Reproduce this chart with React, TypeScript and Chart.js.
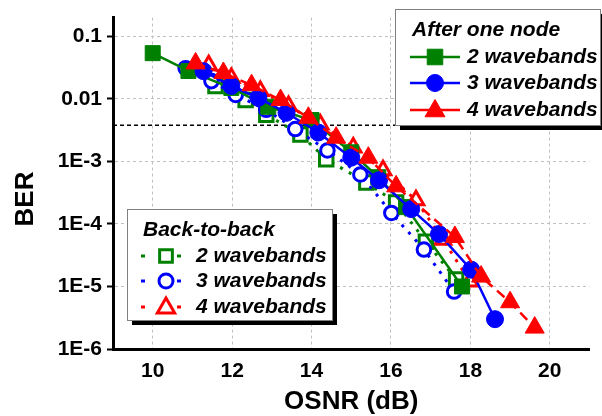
import React, { useEffect, useRef } from "react";
import { Chart, registerables } from "chart.js";

Chart.register(...registerables);

const FONT = '"Liberation Sans", Arial, sans-serif';

// ---- axis ticks ----
const xTicks = [10, 12, 14, 16, 18, 20];
const yTicks = [0.1, 0.01, 1e-3, 1e-4, 1e-5, 1e-6];
const yTickLabels = ["0.1", "0.01", "1E-3", "1E-4", "1E-5", "1E-6"];

// ---- After one node ----
const an2X = [10.0, 10.9, 11.98, 12.91, 14.0, 15.0, 15.68, 16.38, 17.79];
const an2Y = [0.054, 0.028, 0.015, 0.0075, 0.0046, 0.0014, 5.6e-4, 1.86e-4, 1.0e-5];

const an3X = [11.28, 11.98, 12.66, 13.37, 14.17, 15.0, 15.7, 16.51, 17.21, 18.02, 18.62];
const an3Y = [0.0278, 0.0161, 0.0104, 0.006, 0.0029, 0.00115, 5.0e-4, 1.73e-4, 6.9e-5, 1.86e-5, 3.0e-6];

const an4X = [11.08, 11.78, 12.49, 13.22, 13.92, 14.62, 15.43, 16.13, 17.61, 18.27, 19.0, 19.62];
const an4Y = [0.037, 0.026, 0.0166, 0.0096, 0.005, 0.0024, 0.00115, 4.0e-4, 6.2e-5, 1.44e-5, 5.6e-6, 2.2e-6];

// ---- Back-to-back ----
const b2X = [11.58, 12.34, 12.86, 13.72, 14.37, 15.38, 16.13, 16.88, 17.64];
const b2Y = [0.0161, 0.0096, 0.0056, 0.0027, 0.00108, 4.6e-4, 2.2e-4, 5.2e-5, 1.3e-5];

const b3X = [10.83, 11.48, 12.09, 12.86, 13.59, 14.4, 15.23, 16.01, 16.83, 17.59];
const b3Y = [0.031, 0.0193, 0.0116, 0.0067, 0.0033, 0.0015, 6.2e-4, 1.5e-4, 3.9e-5, 8.3e-6];

const b4X = [11.41, 11.98, 12.71, 13.42, 14.22, 15.05, 15.8, 16.63, 17.31, 17.99];
const b4Y = [0.0347, 0.0216, 0.0134, 0.0077, 0.0039, 0.00167, 7.2e-4, 2.4e-4, 5.6e-5, 1.2e-5];

// ---- FEC threshold ----
const fecX = [9, 21];
const fecY = [3.8e-3, 3.8e-3];

const legendOneTitle = "After one node";
const legendTwoTitle = "Back-to-back";
const seriesNames = ["2 wavebands", "3 wavebands", "4 wavebands"];

const GREEN = "#008000";
const BLUE = "#0000ff";
const RED = "#ff0000";

const pts = (xs: number[], ys: number[]) => xs.map((x, i) => ({ x, y: ys[i] }));

function drawMarker(
  ctx: CanvasRenderingContext2D,
  style: string,
  x: number,
  y: number,
  r: number,
  fill: string | null,
  stroke: string,
  bw: number
) {
  ctx.save();
  ctx.setLineDash([]);
  ctx.beginPath();
  if (style === "rect") {
    const s = r * Math.SQRT1_2;
    ctx.rect(x - s, y - s, 2 * s, 2 * s);
  } else if (style === "circle") {
    ctx.arc(x, y, r, 0, Math.PI * 2);
  } else {
    ctx.moveTo(x, y - r);
    ctx.lineTo(x + r * 0.8660254, y + r * 0.5);
    ctx.lineTo(x - r * 0.8660254, y + r * 0.5);
  }
  ctx.closePath();
  if (fill) {
    ctx.fillStyle = fill;
    ctx.fill();
  }
  if (bw > 0) {
    ctx.lineWidth = bw;
    ctx.strokeStyle = stroke;
    ctx.stroke();
  }
  ctx.restore();
}

const overlayPlugin = {
  id: "overlay",
  afterDraw(chart: any) {
    const ctx: CanvasRenderingContext2D = chart.ctx;
    ctx.save();
    // axis titles
    ctx.fillStyle = "#000";
    ctx.font = `bold 26px ${FONT}`;
    ctx.textAlign = "center";
    ctx.textBaseline = "middle";
    ctx.fillText("OSNR (dB)", (chart.chartArea.left + chart.chartArea.right) / 2, 402);
    ctx.save();
    ctx.translate(26, 199);
    ctx.rotate(-Math.PI / 2);
    ctx.fillText("BER", 0, 0);
    ctx.restore();

    const colors = [GREEN, BLUE, RED];
    const styles = ["rect", "circle", "triangle"];

    // Legend 1: After one node
    ctx.fillStyle = "#000";
    ctx.fillRect(400, 14, 205, 116);
    ctx.fillStyle = "#fff";
    ctx.fillRect(395, 9, 205, 116);
    ctx.strokeStyle = "#808080";
    ctx.lineWidth = 1;
    ctx.strokeRect(395.5, 9.5, 205, 116);
    ctx.fillStyle = "#000";
    ctx.font = `bold italic 21px ${FONT}`;
    ctx.textAlign = "left";
    ctx.textBaseline = "middle";
    ctx.fillText(legendOneTitle, 412, 30);
    const rows1 = [57, 83, 110];
    const r1 = [11, 8.5, 11.5];
    rows1.forEach((ry, i) => {
      ctx.strokeStyle = colors[i];
      ctx.lineWidth = 2.5;
      ctx.setLineDash([]);
      ctx.beginPath();
      ctx.moveTo(410, ry);
      ctx.lineTo(460, ry);
      ctx.stroke();
      drawMarker(ctx, styles[i], 435, ry + (i === 2 ? 1 : 0), r1[i], colors[i], colors[i], 1);
      ctx.fillStyle = "#000";
      ctx.fillText(seriesNames[i], 467, ry);
    });

    // Legend 2: Back-to-back
    ctx.fillStyle = "#000";
    ctx.fillRect(132, 214, 205, 111);
    ctx.fillStyle = "#fff";
    ctx.fillRect(127, 209, 205, 111);
    ctx.strokeStyle = "#808080";
    ctx.lineWidth = 1;
    ctx.strokeRect(127.5, 209.5, 205, 111);
    ctx.fillStyle = "#000";
    ctx.fillText(legendTwoTitle, 143, 230);
    const rows2 = [256, 281, 307];
    const r2 = [9, 7, 10];
    rows2.forEach((ry, i) => {
      ctx.fillStyle = colors[i];
      ctx.fillRect(141, ry - 1.5, 4, 3);
      ctx.fillRect(177, ry - 1.5, 4, 3);
      drawMarker(ctx, styles[i], 166, ry + (i === 2 ? 1 : 0), r2[i], "#fff", colors[i], 3);
      ctx.fillStyle = "#000";
      ctx.fillText(seriesNames[i], 196, ry);
    });
    ctx.restore();
  },
};

export default function App() {
  const ref = useRef<HTMLCanvasElement>(null);

  useEffect(() => {
    if (!ref.current) return;
    const filled = (data: any, color: string, style: string, r: number, dash: number[], order: number) => ({
      data,
      showLine: true,
      borderColor: color,
      borderWidth: 2.5,
      borderDash: dash,
      pointStyle: style,
      pointRadius: r,
      pointBackgroundColor: color,
      pointBorderColor: color,
      pointBorderWidth: 1,
      fill: false,
      tension: 0,
      order,
    });
    const hollow = (data: any, color: string, style: string, r: number, order: number) => ({
      data,
      showLine: true,
      borderColor: color,
      borderWidth: 3,
      borderDash: [3, 7],
      pointStyle: style,
      pointRadius: r,
      pointBackgroundColor: "#fff",
      pointBorderColor: color,
      pointBorderWidth: 3,
      fill: false,
      tension: 0,
      order,
    });

    const chart = new Chart(ref.current, {
      type: "line",
      data: {
        datasets: [
          filled(pts(an4X, an4Y), RED, "triangle", 11, [10, 6], 1),
          filled(pts(an3X, an3Y), BLUE, "circle", 8.5, [], 2),
          filled(pts(an2X, an2Y), GREEN, "rect", 10.6, [], 3),
          hollow(pts(b4X, b4Y), RED, "triangle", 9, 4),
          hollow(pts(b3X, b3Y), BLUE, "circle", 6.8, 5),
          hollow(pts(b2X, b2Y), GREEN, "rect", 9.5, 6),
          {
            data: pts(fecX, fecY),
            showLine: true,
            borderColor: "#000",
            borderWidth: 1.5,
            borderDash: [4, 3],
            pointRadius: 0,
            fill: false,
            order: 7,
          },
        ] as any,
      },
      options: {
        responsive: false,
        animation: false,
        devicePixelRatio: 1,
        layout: { padding: { top: 13, right: 9, left: 0, bottom: 0 } },
        plugins: { legend: { display: false }, tooltip: { enabled: false } },
        scales: {
          x: {
            type: "linear",
            min: 9,
            max: 21,
            afterBuildTicks: (scale: any) => {
              scale.ticks = xTicks.map((v) => ({ value: v }));
            },
            afterFit: (scale: any) => {
              scale.height = 67;
            },
            ticks: {
              autoSkip: false,
              maxRotation: 0,
              padding: 10,
              color: "#000",
              font: { family: FONT, size: 21, weight: "bold" },
              callback: (v: any) => String(v),
            },
            grid: {
              color: "#c0c0c0",
              lineWidth: 1,
              drawTicks: false,
            },
            border: { display: true, color: "#000", width: 3, dash: [3, 3] },
          },
          y: {
            type: "logarithmic",
            min: 1e-6,
            max: 0.2,
            afterBuildTicks: (scale: any) => {
              scale.ticks = yTicks.map((v) => ({ value: v }));
            },
            afterFit: (scale: any) => {
              scale.width = 113;
            },
            ticks: {
              autoSkip: false,
              padding: 5,
              color: "#000",
              font: { family: FONT, size: 21, weight: "bold" },
              callback: (v: any) => {
                const i = yTicks.findIndex((t) => Math.abs(Math.log10(t) - Math.log10(v)) < 1e-6);
                return i >= 0 ? yTickLabels[i] : "";
              },
            },
            grid: {
              color: "#c0c0c0",
              lineWidth: 1,
              drawTicks: true,
              tickLength: 6,
              tickColor: "#000",
              tickWidth: 2,
            },
            border: { display: true, color: "#000", width: 3, dash: [3, 3] },
          },
        },
      } as any,
      plugins: [overlayPlugin],
    });
    return () => chart.destroy();
  }, []);

  return (
    <div style={{ position: "absolute", left: 0, top: 0, width: 602, height: 416 }}>
      <canvas ref={ref} width={602} height={416} style={{ display: "block" }} />
    </div>
  );
}
